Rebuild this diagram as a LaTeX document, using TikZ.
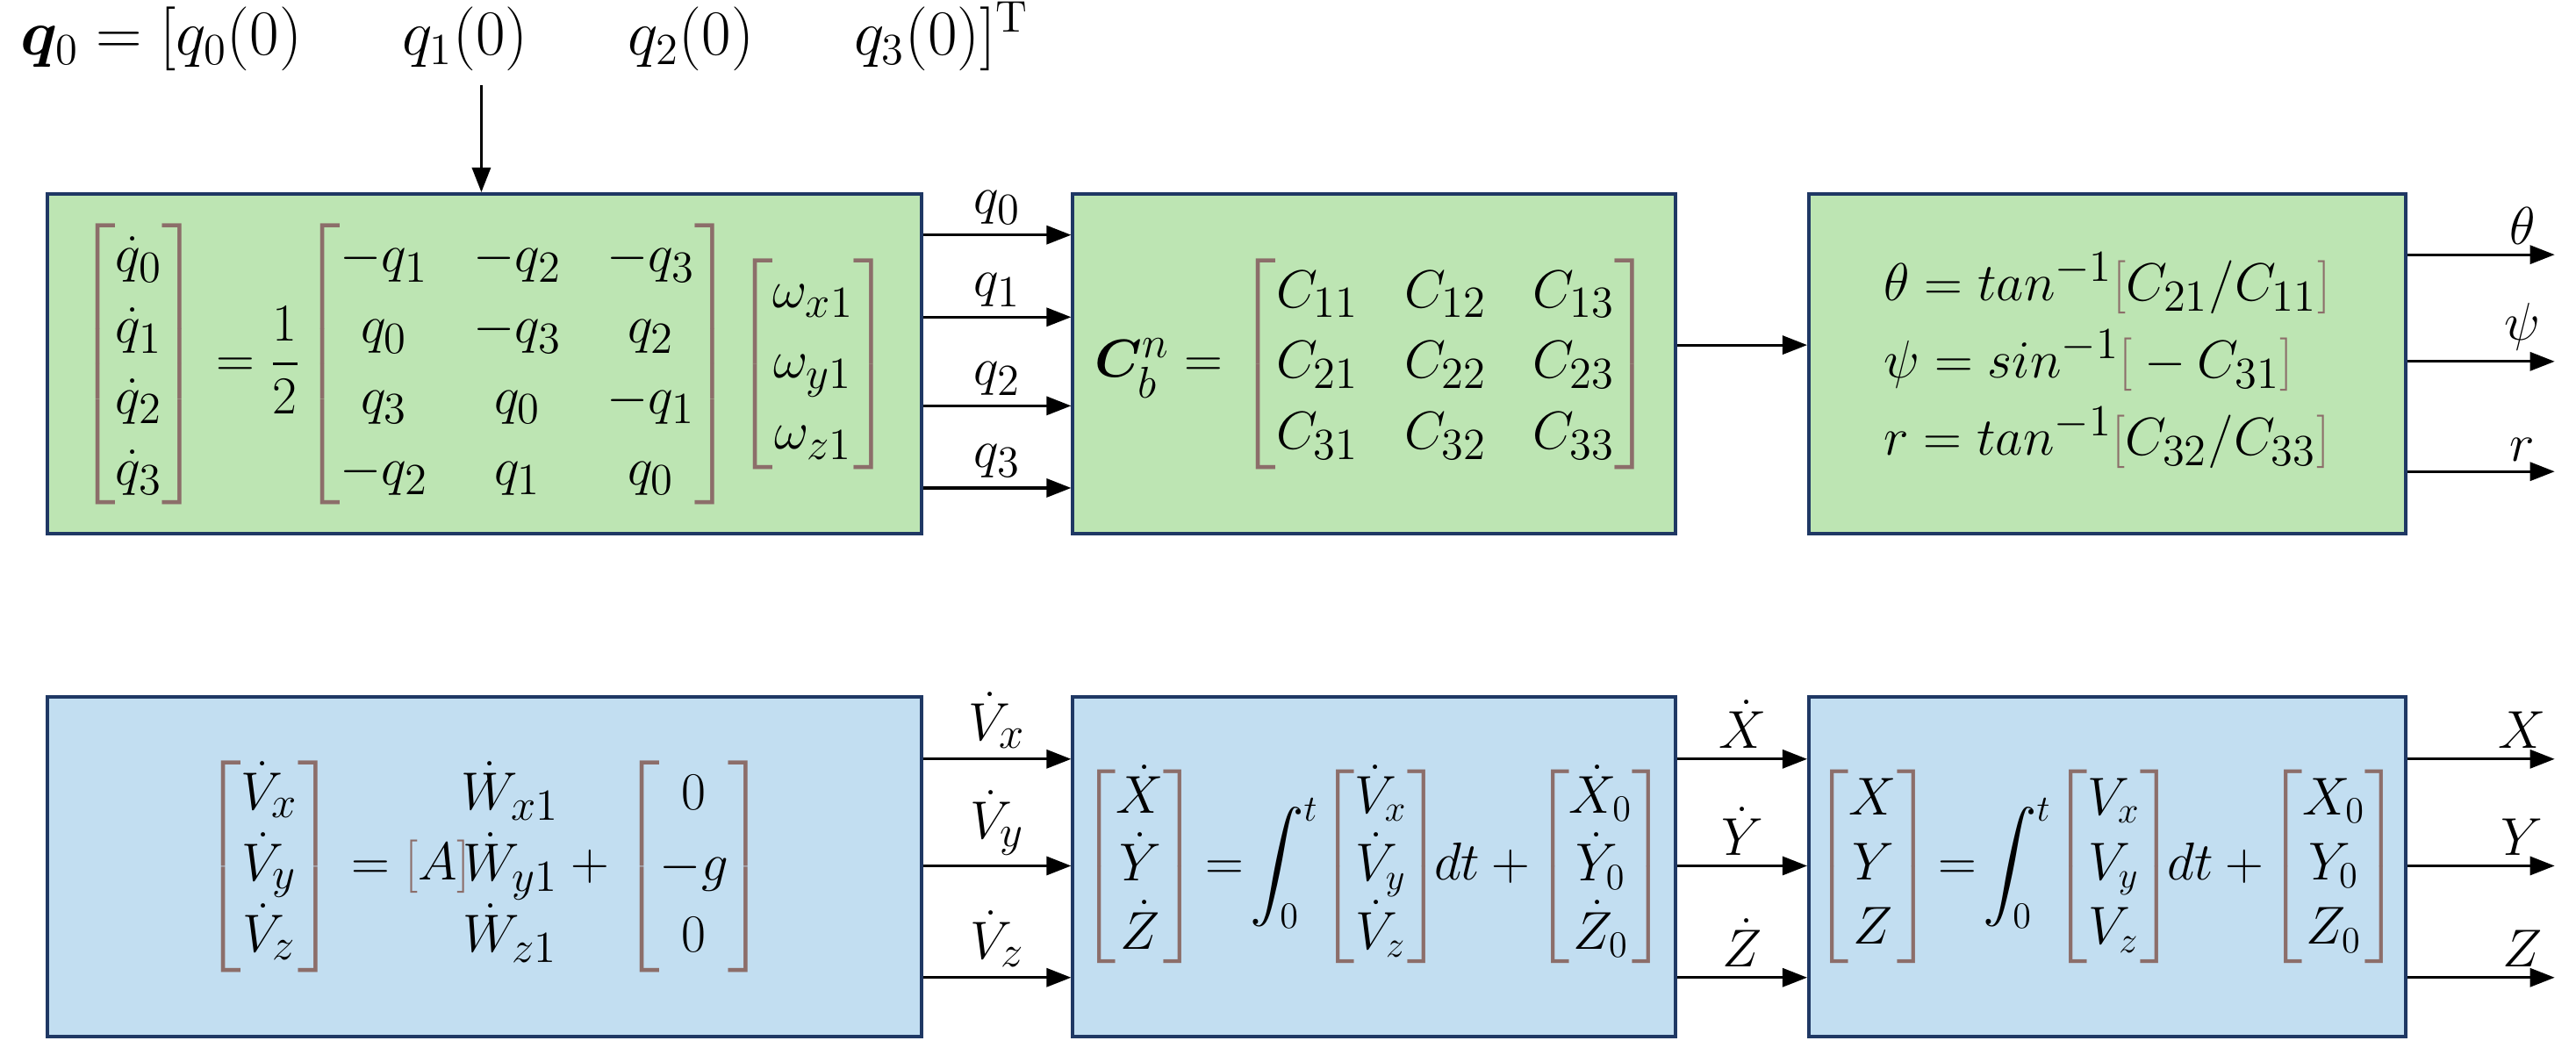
\documentclass[tikz,border=0pt]{standalone}
\usepackage{amsmath,amssymb,bm}
\usetikzlibrary{arrows.meta,positioning}
\definecolor{GREENBOX}{HTML}{BDE5B3}
\definecolor{BLUEBOX}{HTML}{C2DEF1}
\definecolor{EDGE}{HTML}{1F3864}
\definecolor{BRK}{HTML}{8C6E6A}
\newcommand{\cbm}[1]{{\color{BRK}\left[\color{black}\begin{matrix}#1\end{matrix}\color{BRK}\right]}}
\newcommand{\cb}[1]{{\color{BRK}[}#1{\color{BRK}]}}

\begin{document}
\begin{tikzpicture}[x=0.01872cm, y=-0.01872cm,
  every node/.style={font=\fontsize{19}{23}\selectfont},
  block/.style={draw=EDGE, line width=1.1pt, anchor=north west, inner sep=0pt, minimum height=3.875cm},
  green block/.style={block, fill=GREENBOX},
  blue block/.style={block, fill=BLUEBOX},
  small math/.style={font=\fontsize{17.5}{21}\selectfont},
  sig/.style={-{Triangle[length=8pt,width=6pt]}, line width=0.9pt},
  lbl/.style={above, inner sep=3pt}]
\useasboundingbox (0,0) rectangle (1568,642);

% initial quaternion
\node [anchor=west, font=\fontsize{21}{25}\selectfont] (init) at (6,22) {$\bm{q}_0 = [q_0(0)\quad\;\; q_1(0)\quad\;\; q_2(0)\quad\;\; q_3(0)]^{\mathrm{T}}$};

% upper row
\node [green block, minimum width=9.96cm] (quat) at (28,117) {$\cbm{\dot{q}_0\\ \dot{q}_1\\ \dot{q}_2\\ \dot{q}_3} = \dfrac{1}{2}\cbm{-q_1 & \;-q_2 & \;-q_3\\ q_0 & \;-q_3 & \;q_2\\ q_3 & \;q_0 & \;-q_1\\ -q_2 & \;q_1 & \;q_0}\cbm{\omega_{x1}\\ \omega_{y1}\\ \omega_{z1}}$};
\node [green block, minimum width=6.87cm] (dcm) at (652,117) {$\bm{C}_b^n = \cbm{C_{11} & \;C_{12} & \;C_{13}\\ C_{21} & \;C_{22} & \;C_{23}\\ C_{31} & \;C_{32} & \;C_{33}}$};
\node [green block, minimum width=6.80cm] (euler) at (1100,117) {\begin{tabular}{@{}l@{}}$\theta = tan^{-1}\cb{C_{21}/C_{11}}$\\[2pt] $\psi = sin^{-1}\cb{-C_{31}}$\\[2pt] $r = tan^{-1}\cb{C_{32}/C_{33}}$\end{tabular}};

% lower row
\node [blue block, minimum width=9.96cm] (accel) at (28,423) {$\cbm{\dot{V}_x\\ \dot{V}_y\\ \dot{V}_z} = \cb{A}\!\begin{matrix}\dot{W}_{x1}\\ \dot{W}_{y1}\\ \dot{W}_{z1}\end{matrix} + \cbm{0\\ -g\\ 0}$};
\node [blue block, small math, minimum width=6.87cm] (vel) at (652,423) {$\!\cbm{\dot{X}\\ \dot{Y}\\ \dot{Z}}\!=\!\displaystyle\int_0^t\!\cbm{\dot{V}_x\\ \dot{V}_y\\ \dot{V}_z}\!dt +\!\cbm{\dot{X}_0\\ \dot{Y}_0\\ \dot{Z}_0}\!$};
\node [blue block, small math, minimum width=6.80cm] (pos) at (1100,423) {$\!\cbm{X\\ Y\\ Z}\!=\!\displaystyle\int_0^t\!\cbm{V_x\\ V_y\\ V_z}\!dt +\!\cbm{X_0\\ Y_0\\ Z_0}\!$};

% connectors
\coordinate (tapq) at (293,52);
\draw [sig] (tapq) -- (tapq |- quat.north);
\foreach \yy/\tx in {143/q_0, 193/q_1, 247/q_2, 297/q_3}
  \draw [sig] (quat.east |- 0,\yy) -- node [lbl] {$\tx$} (dcm.west |- 0,\yy);
\draw [sig] (dcm.east |- 0,210) -- (euler.west |- 0,210);
\foreach \yy/\tx [count=\i] in {155/\theta, 220/\psi, 287/r} {
  \coordinate (ang\i) at (1555,\yy);
  \draw [sig] (euler.east |- ang\i) -- node [lbl, pos=0.78] {$\tx$} (ang\i);
}
\foreach \yy/\tx in {462/\dot{V}_x, 527/\dot{V}_y, 595/\dot{V}_z}
  \draw [sig] (accel.east |- 0,\yy) -- node [lbl] {$\tx$} (vel.west |- 0,\yy);
\foreach \yy/\tx in {462/\dot{X}, 527/\dot{Y}, 595/\dot{Z}}
  \draw [sig] (vel.east |- 0,\yy) -- node [lbl] {$\tx$} (pos.west |- 0,\yy);
\foreach \yy/\tx [count=\i] in {462/X, 527/Y, 595/Z} {
  \coordinate (out\i) at (1555,\yy);
  \draw [sig] (pos.east |- out\i) -- node [lbl, pos=0.78] {$\tx$} (out\i);
}
\end{tikzpicture}
\end{document}
